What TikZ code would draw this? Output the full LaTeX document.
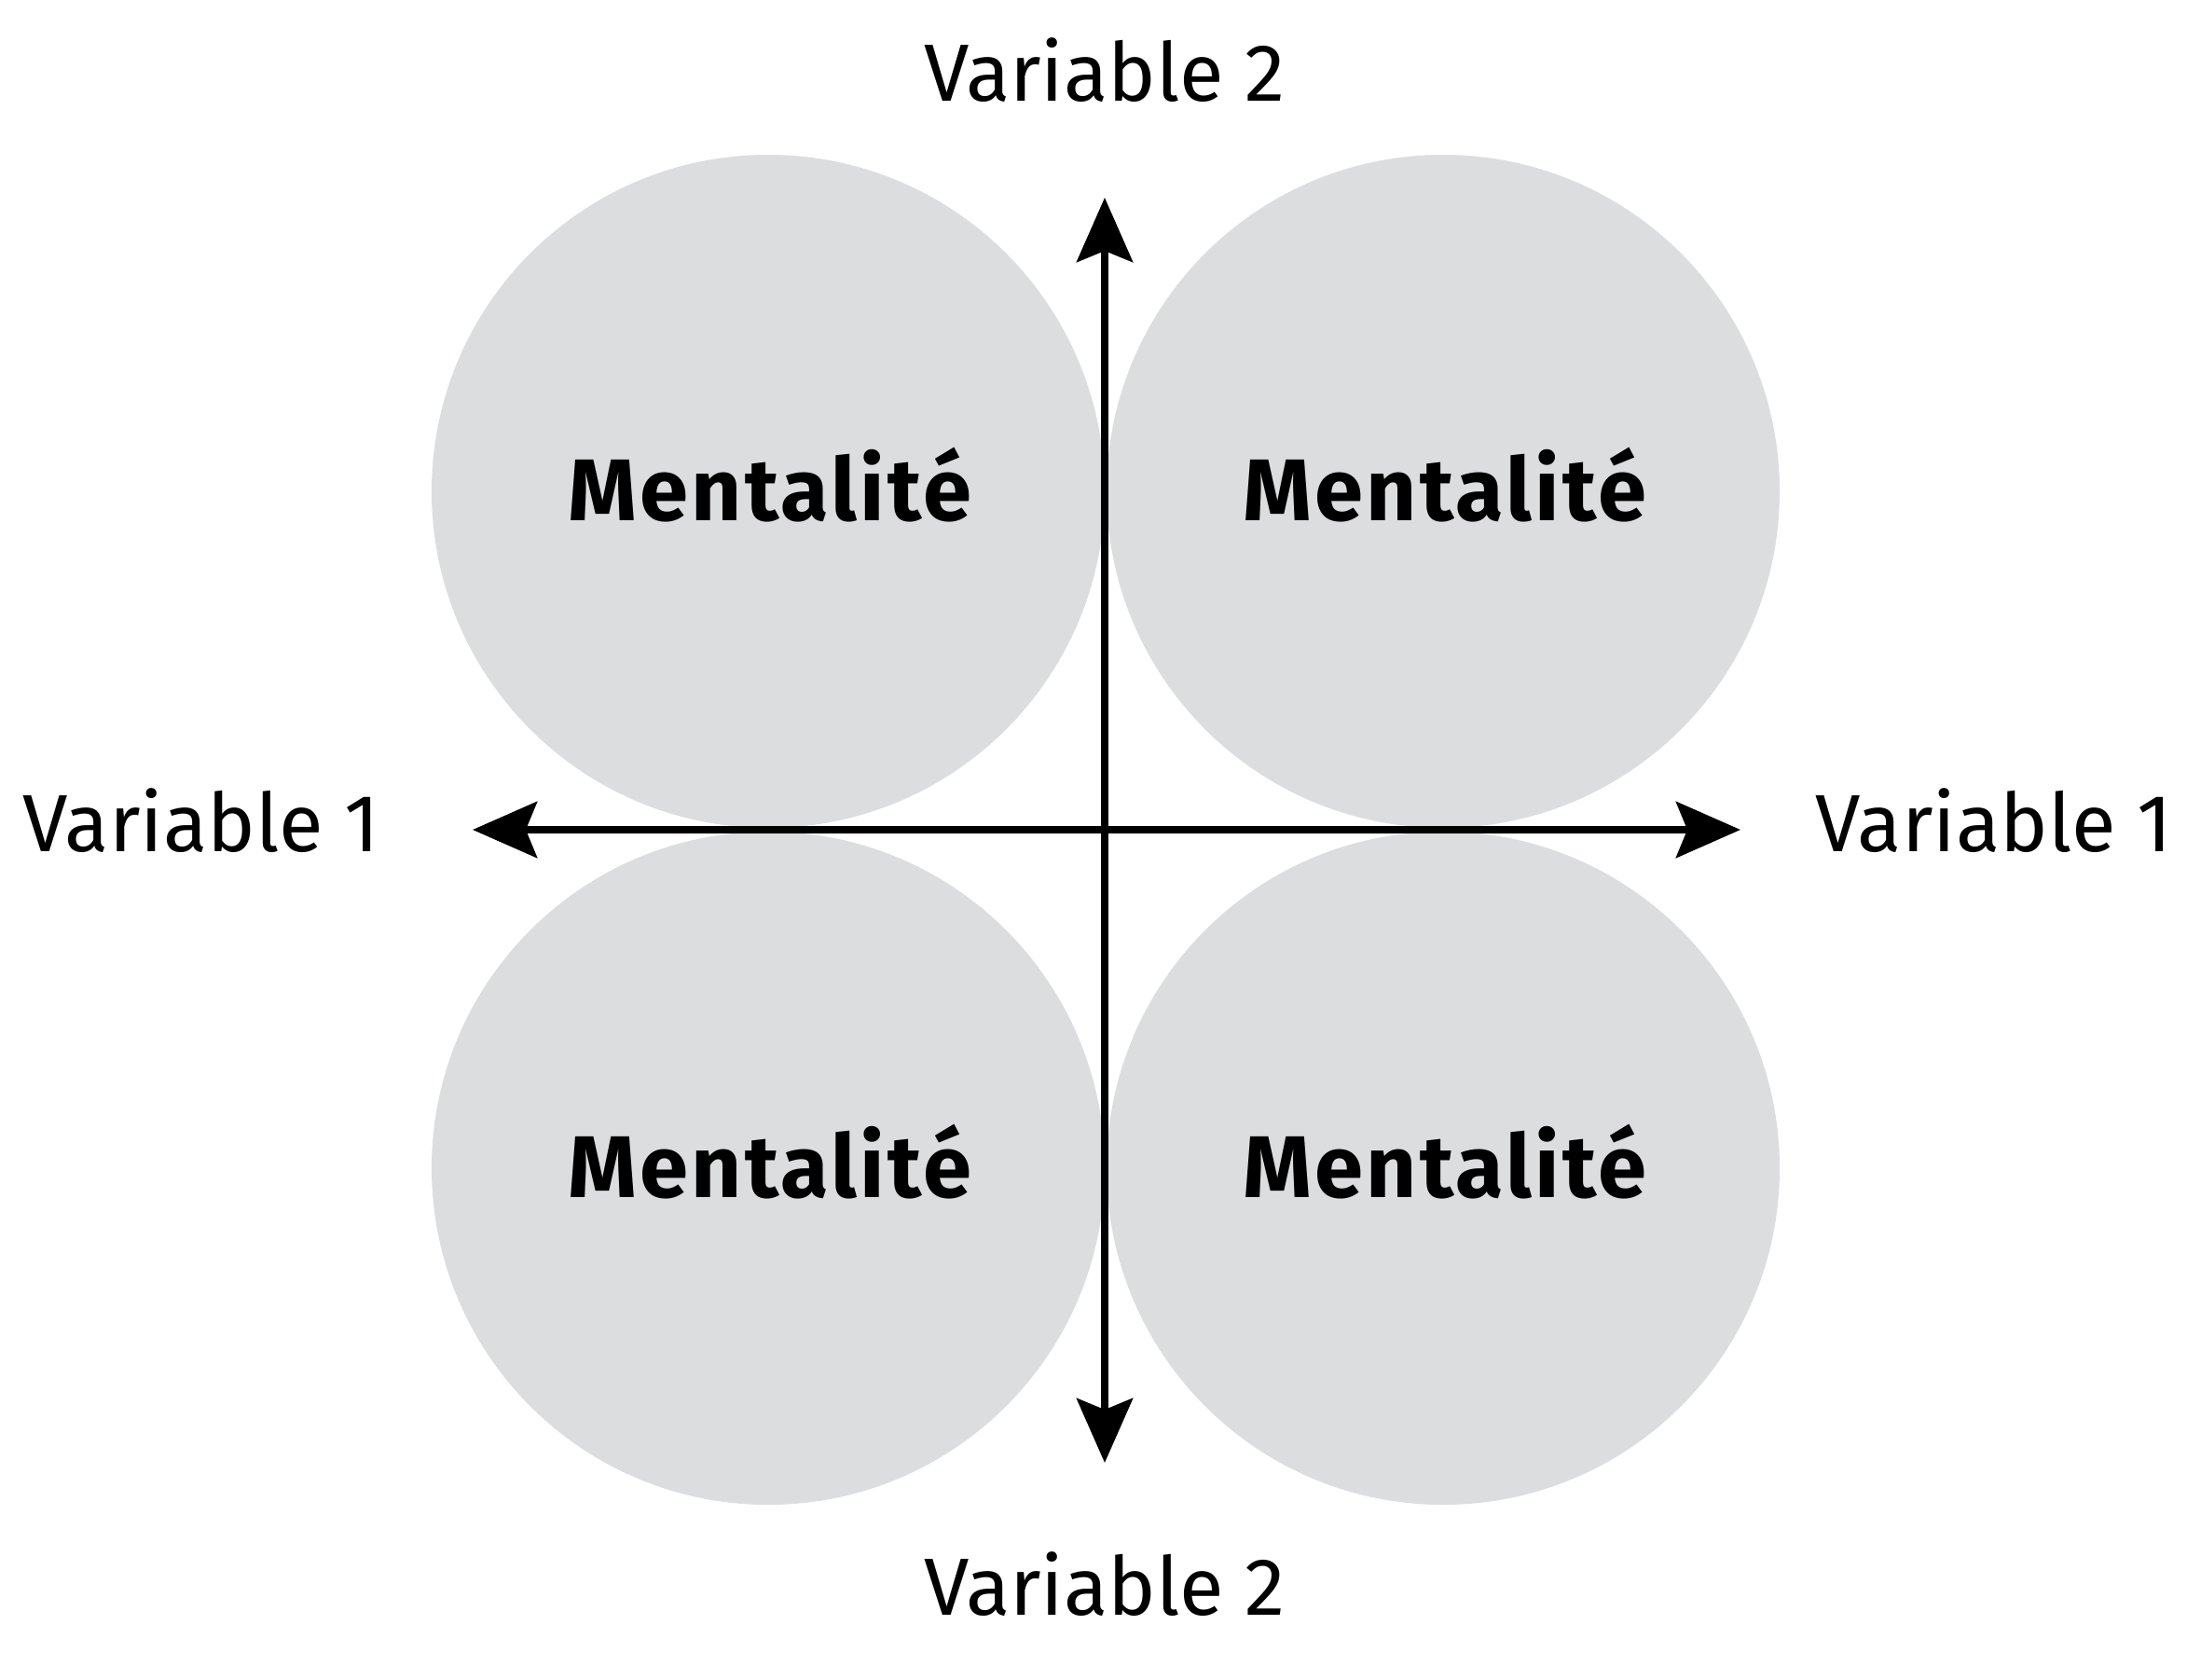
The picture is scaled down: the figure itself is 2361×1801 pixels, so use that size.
\documentclass[tikz,border=0pt]{standalone}
\usepackage{fontspec}
\setmainfont{Fira Sans}
\usetikzlibrary{arrows.meta}
\definecolor{circgray}{HTML}{DCDDDF}
\begin{document}
\begin{tikzpicture}[x=0.5pt,y=-0.5pt,
  blob/.style={circle,fill=circgray,minimum size=361pt,inner sep=0pt},
  mlabel/.style={anchor=base,font=\fontsize{47}{50}\selectfont\bfseries\addfontfeature{LetterSpace=3.5},inner sep=0pt},
  vlabel/.style={anchor=base,font=\fontsize{43.5}{50}\selectfont,inner sep=0pt},
  axis/.style={line width=4pt,-{Stealth[length=34.5pt,width=30pt,inset=6pt]},shorten >=0pt}]
\useasboundingbox (0,0) rectangle (2361,1801);
\node[blob] (c1) at (824,527) {};
\node[blob] (c2) at (1548,527) {};
\node[blob] (c3) at (824,1253) {};
\node[blob] (c4) at (1548,1253) {};
\node[mlabel] (m1) at (826,558) {Mentalité};
\node[mlabel] (m2) at (1550,558) {Mentalité};
\node[mlabel] (m3) at (826,1284) {Mentalité};
\node[mlabel] (m4) at (1550,1284) {Mentalité};
\coordinate (o) at (1185,890);
\coordinate (top) at (1185,212);
\coordinate (bot) at (1185,1569);
\coordinate (lft) at (507,890);
\coordinate (rgt) at (1867,890);
\draw[axis] (o) -- (top);
\draw[axis] (o) -- (bot);
\draw[axis] (o) -- (lft);
\draw[axis] (o) -- (rgt);
\node[vlabel] (v2t) at (1185,108) {Variable 2};
\node[vlabel] (v2b) at (1185,1732) {Variable 2};
\node[vlabel] (v1l) at (216,913) {Variable 1};
\node[vlabel] (v1r) at (2139,913) {Variable 1};
\end{tikzpicture}
\end{document}
